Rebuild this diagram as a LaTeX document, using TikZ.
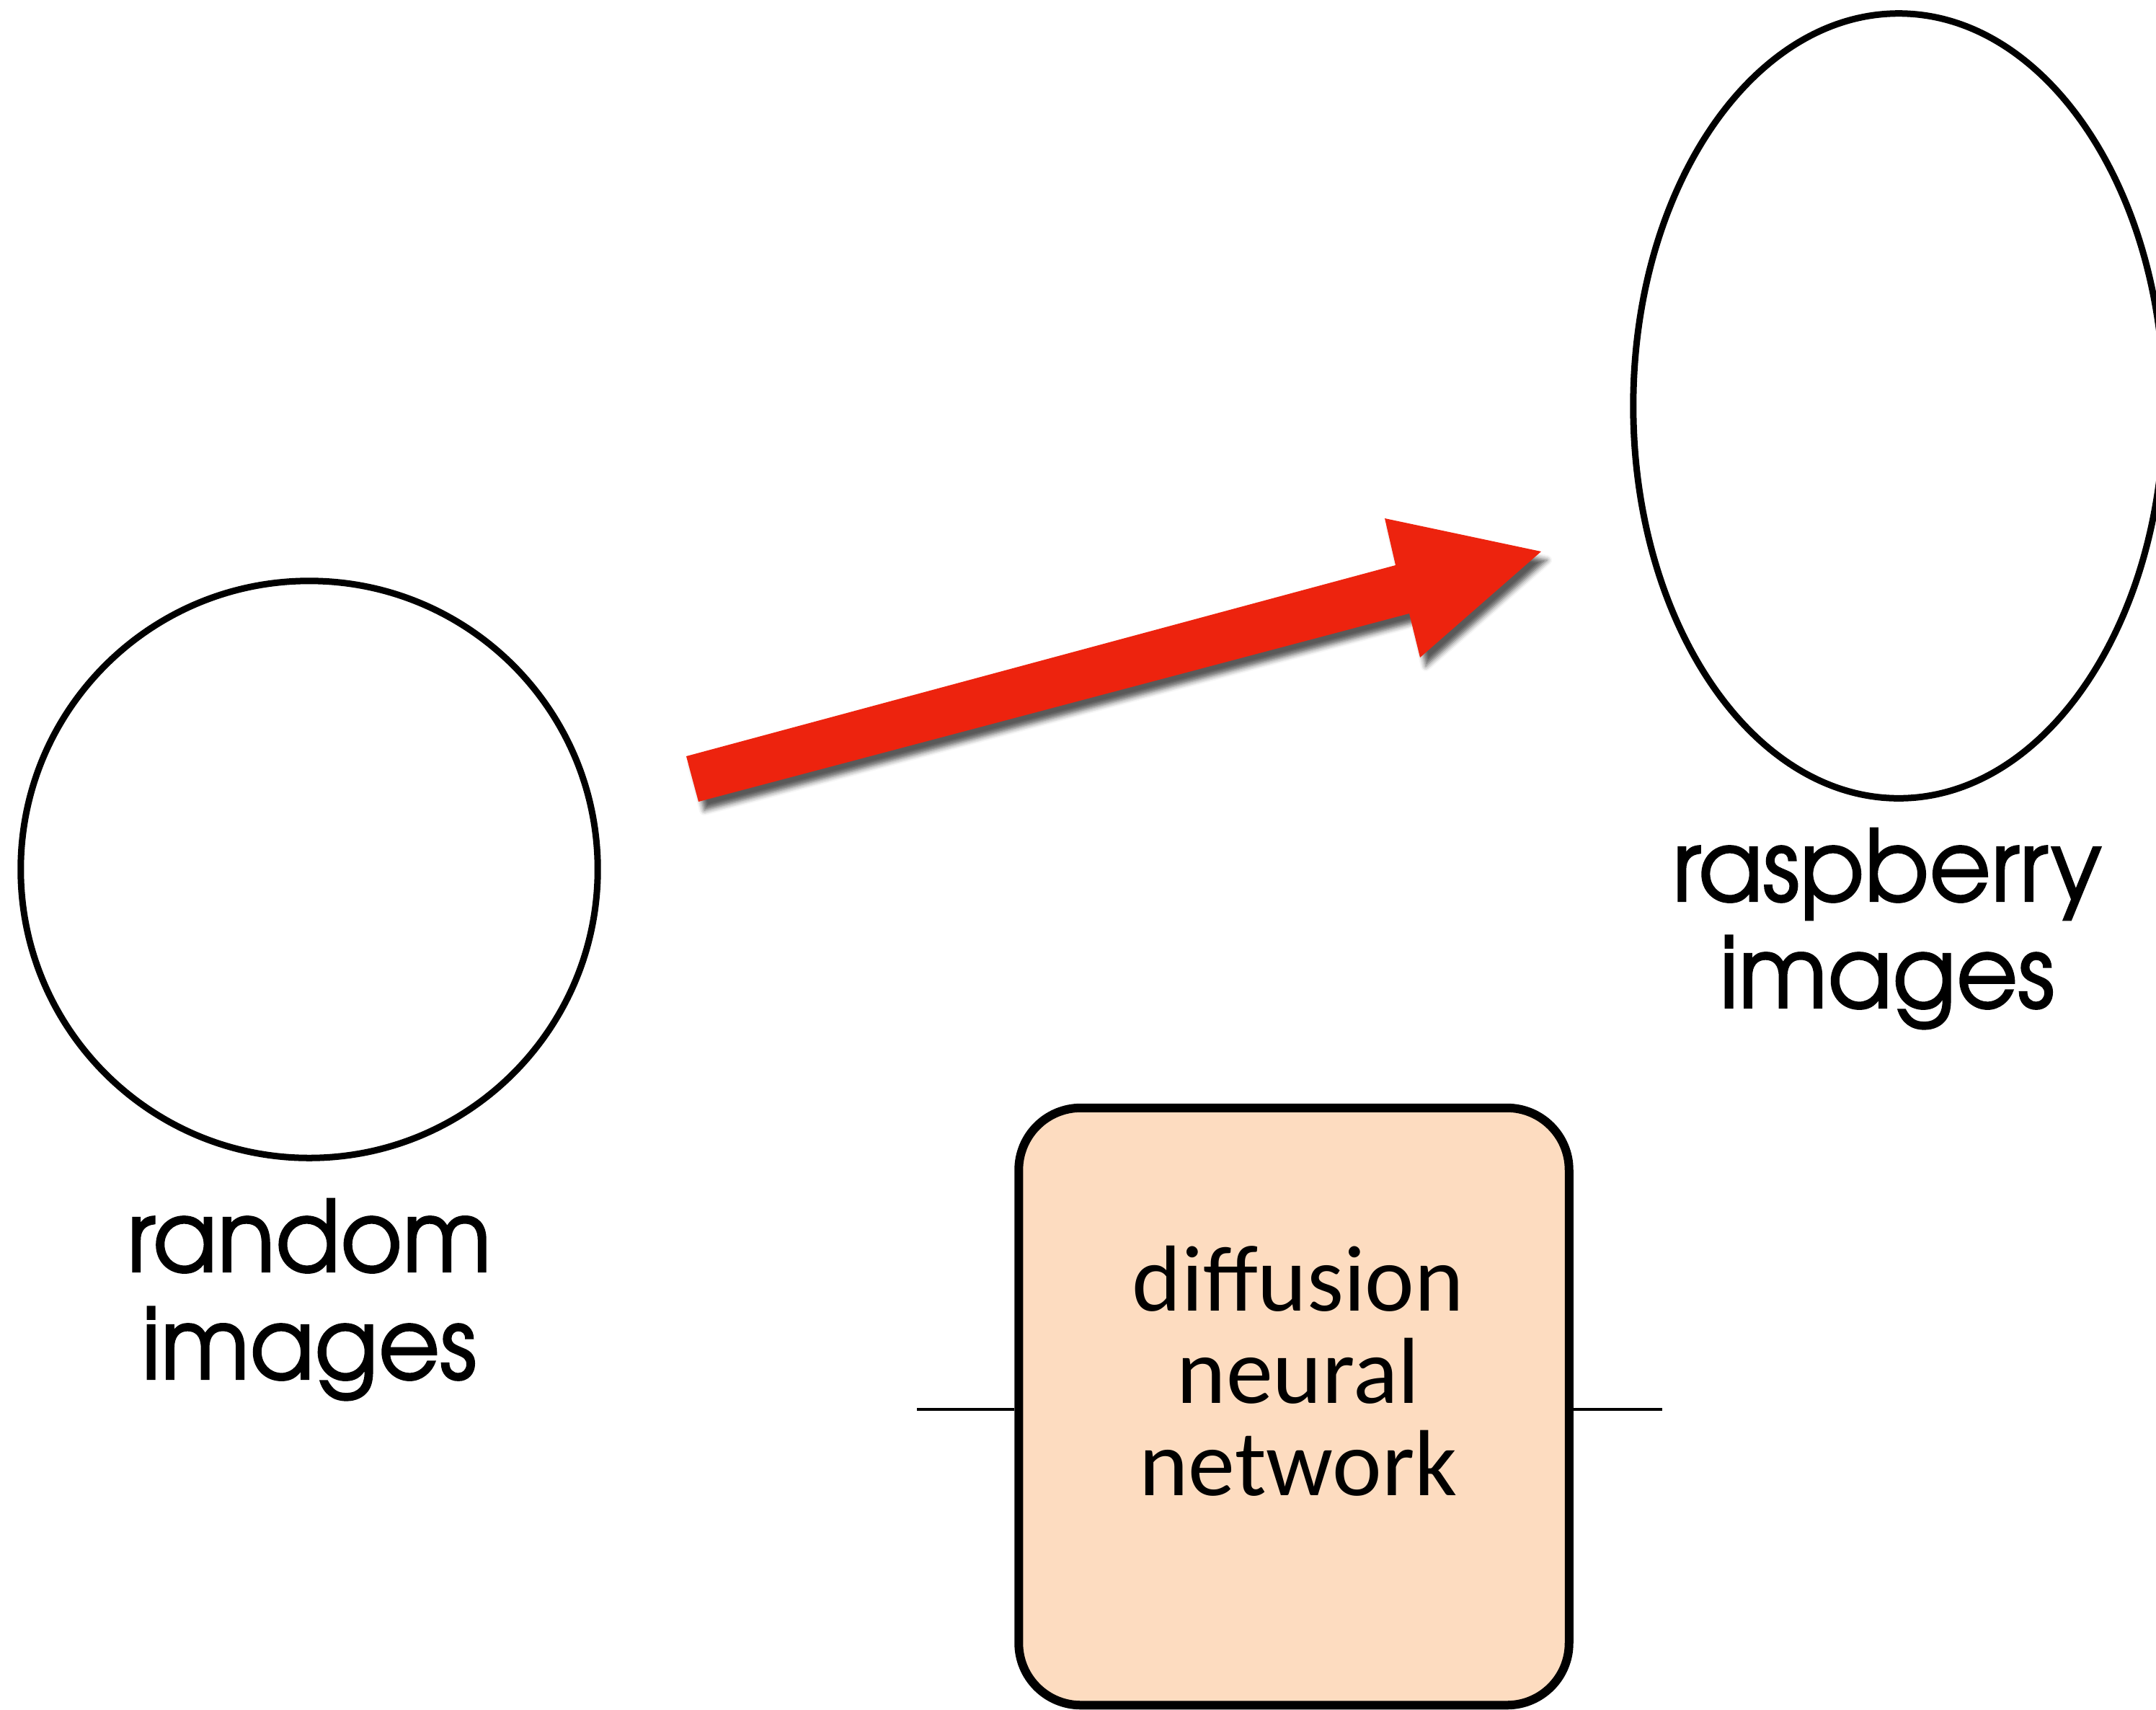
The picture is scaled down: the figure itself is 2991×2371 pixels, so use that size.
\documentclass[tikz,border=0pt]{standalone}
\usepackage{fontspec}
\newfontfamily\gothic[FakeBold=1.6,FakeStretch=0.96]{texgyreadventor-regular.otf}
\newfontfamily\cali{Carlito}
\usetikzlibrary{shapes.geometric,shadows.blur}
\definecolor{arrowred}{RGB}{237,35,14}
\definecolor{peach}{RGB}{253,220,192}
\tikzset{
  setshape/.style={draw=black, line width=0.09cm, inner sep=0pt},
  lbl/.style={font=\gothic\fontsize{39}{42}\selectfont, inner sep=0pt, anchor=base},
  nnlbl/.style={font=\cali\fontsize{37}{40}\selectfont, inner sep=0pt, anchor=base},
  nnbox/.style={draw=black, fill=peach, line width=0.12cm, rounded corners=0.86cm,
    minimum width=7.63cm, minimum height=8.28cm, inner sep=0pt},
  wire/.style={draw=black, line width=0.045cm},
  bigarrow/.style={fill=arrowred, blur shadow={shadow xshift=0.08cm, shadow yshift=-0.12cm,
    shadow blur radius=0.07cm, shadow opacity=65}}
}
\begin{document}
\begin{tikzpicture}[x=0.01cm,y=-0.01cm]
\useasboundingbox (0,0) rectangle (2991,2371);
\clip (0,0) rectangle (2991,2371);

% sets
\node (rand) [setshape, circle, minimum size=8cm] at (429,1206) {};
\node (rasp) [setshape, ellipse, minimum width=7.36cm, minimum height=10.88cm] at (2634,563) {};

% labels
\node (r1) [lbl] at (429,1764) {random};
\node (r2) [lbl] at (429,1913) {images};
\node (s1) [lbl] at (2618,1250) {raspberry};
\node (s2) [lbl] at (2618,1398) {images};

% arrow
\coordinate (a1) at (952,1049);
\coordinate (a2) at (1936,784);
\coordinate (a3) at (1921,719);
\coordinate (a4) at (2138,765);
\coordinate (a5) at (1970,912);
\coordinate (a6) at (1955,851);
\coordinate (a7) at (969,1112);
\path[bigarrow] (a1) -- (a2) -- (a3) -- (a4) -- (a5) -- (a6) -- (a7) -- cycle;

% network box
\node (nn) [nnbox] at (1795,1951) {};
\node (n1) [nnlbl] at (1801,1818) {diffusion};
\node (n2) [nnlbl] at (1801,1946) {neural};
\node (n3) [nnlbl] at (1801,2074) {network};

\coordinate (inL) at (1272,1955);
\coordinate (outR) at (2306,1955);
\draw[wire] (inL) -- (inL -| nn.west);
\draw[wire] (inL -| nn.east) -- (outR);
\end{tikzpicture}
\end{document}
